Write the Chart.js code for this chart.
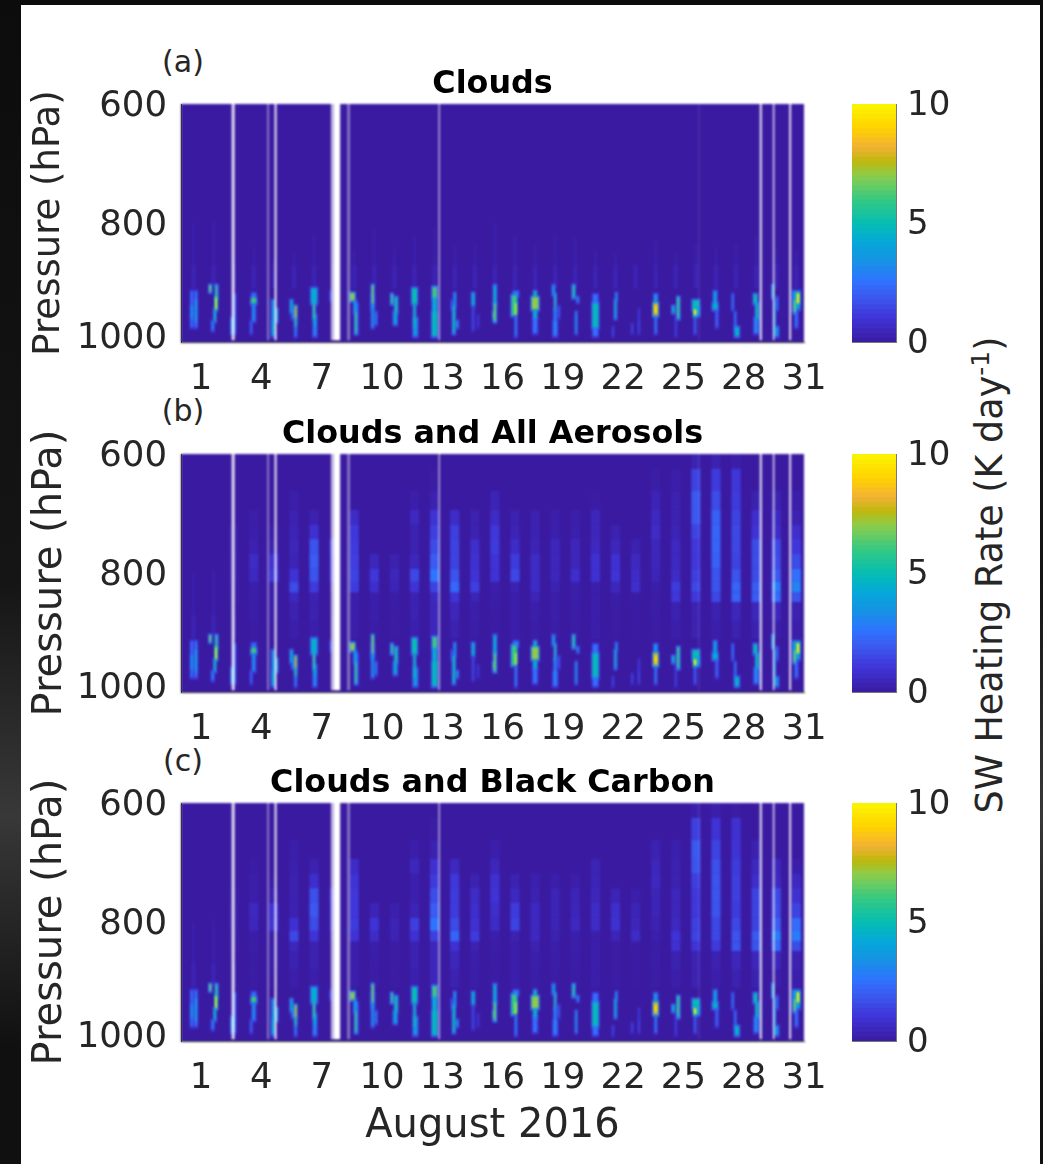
<!DOCTYPE html>
<html>
<head>
<meta charset="utf-8">
<script src="https://cdn.jsdelivr.net/npm/chart.js@4/dist/chart.umd.min.js"></script>
<style>
  html, body { margin: 0; padding: 0; }
  body { width: 1043px; height: 1164px; position: relative; overflow: hidden;
         background: linear-gradient(#0c0c0c 0%, #151515 50%, #383838 70%, #101010 90%); font-family: "DejaVu Sans", sans-serif; color: #262626; }
  #card { position: absolute; left: 21px; top: 5px; width: 1019px; height: 1159px; background: #fff; }
  canvas { position: absolute; }
  .tag { position: absolute; font-size: 30px; line-height: 30px; width: 60px; margin-left: -30px; text-align: center; }
  #cbLabel { position: absolute; left: 990px; top: 575px; font-size: 36.5px; line-height: 40px; white-space: nowrap;
             transform: translate(-50%, -50%) rotate(-90deg); }
  #cbLabel sup { font-size: 25px; line-height: 0; }
</style>
</head>
<body>
<div id="card"></div>
<div class="tag" style="left:183px;top:47px">(a)</div>
<div class="tag" style="left:183px;top:396px">(b)</div>
<div class="tag" style="left:183px;top:746px">(c)</div>
<div id="cbLabel">SW Heating Rate (K day<sup>-1</sup>)</div>
<script>
const panelTitles = ["Clouds", "Clouds and All Aerosols", "Clouds and Black Carbon"];
const dayTicks = [1, 4, 7, 10, 13, 16, 19, 22, 25, 28, 31];
const pressureTicks = [600, 800, 1000];
const colorbarTicks = [0, 5, 10];

// colormap
const colorValues = [0, 1, 2, 2.6, 3.5, 4.2, 5, 6, 7, 7.6, 8.2, 9, 10];
const colorStops = ["#3a1aa0", "#3f33d6", "#3a5cf2", "#2f74ff", "#1495e2", "#05a8da", "#05bdb2", "#35c982", "#8ccc4d", "#bdb80c", "#f2b135", "#ffd200", "#fbf500"];
const colorbarSteps = [0, .2, .4, .6, .8, 1, 1.2, 1.4, 1.6, 1.8, 2, 2.2, 2.4, 2.6, 2.8, 3, 3.2, 3.4, 3.6, 3.8, 4, 4.2, 4.4, 4.6, 4.8, 5, 5.2, 5.4, 5.6, 5.8, 6, 6.2, 6.4, 6.6, 6.8, 7, 7.2, 7.4, 7.6, 7.8, 8, 8.2, 8.4, 8.6, 8.8, 9, 9.2, 9.4, 9.6, 9.8];

// noon of the first sounding, in days on the axis; one column per day after it
const firstColumn = 0.62;

// missing data stripes
const gapStart = [2.52, 4.29, 4.66, 7.46, 7.6, 8.27, 12.81, 25.73, 28.8, 29.45, 30.26];
const gapEnd = [2.67, 4.38, 4.75, 7.6, 7.92, 8.41, 12.89, 25.8, 28.9, 29.53, 30.36];
const gapAlpha = [.85, .45, 1, .7, 1, .4, .6, .1, .9, .8, .85];

// pressure edges of the coarse aerosol layers
const layerEdges = [600, 625, 662, 694, 719, 743, 768, 793, 815, 833, 849, 880, 910];

// aerosol heating, one row per day, one value per layer, K/day
const heatingAll = [
  [0, 0, 0, 0, 0, 0, 0, 0, 0, 0, 0, 0],
  [0, 0, 0, 0, 0, 0, 0, 0, 0, 0, 0, 0],
  [0, 0, 0, 0, .15, .15, .2, .2, .1, .1, 0, 0],
  [0, 0, 0, .2, .2, .3, .7, .6, .2, .2, .15, .1],
  [0, 0, 0, 0, .15, .3, 1, 1.2, .2, .2, .2, .1],
  [0, 0, .2, .3, .4, .5, .4, 1, 1.6, .6, .3, .2],
  [0, 0, 0, .3, .9, 1.8, 2, 1.8, 1.2, .3, .3, .2],
  [0, 0, 0, 0, 0, 1.2, 1, 1, .3, 0, 0, 0],
  [0, 0, 0, .7, 1.1, 1.2, 1.3, 1.4, 1.2, .2, .2, .2],
  [0, 0, 0, 0, 0, 0, .5, 1.1, .8, .2, .2, .1],
  [0, 0, 0, 0, 0, 0, .3, .5, .4, .15, .1, .1],
  [0, 0, .2, .6, .3, .3, .5, 1.5, 1, .3, .3, .25],
  [0, .1, .3, 1, 1.3, 1.6, 2, 2.6, 1.4, .6, .5, .5],
  [0, 0, 0, .7, 1.3, 1.4, 1.4, 1.8, 2.3, 1, .5, .3],
  [0, 0, 0, .3, .3, .8, .9, 1, 1.3, .4, .2, .15],
  [0, 0, .4, .7, 1.1, 1.2, 1, 1, .2, .15, .1, .1],
  [0, 0, 0, .3, .4, .7, 1.2, 1.5, .3, .2, .2, .2],
  [0, 0, 0, .3, .3, .4, .7, .7, .7, .4, .2, .15],
  [0, 0, 0, .2, .25, .5, .5, .5, .3, .2, .2, .15],
  [0, 0, 0, .2, .25, .5, .5, .8, .2, .2, .15, .1],
  [0, 0, .1, .5, .5, .6, .9, .9, .2, .2, .2, .2],
  [0, 0, 0, 0, .3, .5, .9, 1, .5, .15, .1, .1],
  [0, 0, 0, 0, 0, .3, .6, .7, .8, .1, .05, .05],
  [0, .15, .4, .6, .7, .5, .5, .4, .2, .1, .15, .1],
  [0, .2, .3, .3, .4, .6, .6, .7, 1.2, 1.1, .3, .2],
  [.3, 1.4, 1.9, 1.9, 1.4, 1.1, 1.1, 1.3, 1.5, 1.1, .3, .3],
  [.3, 1.2, 1.6, 2.1, 2.2, 2.2, 2.1, 1.8, 1.8, 1.5, .3, .2],
  [.2, 1.1, 1.2, 1.4, 1.5, 1.5, 1.4, 1.8, 2.2, 2.2, .5, .3],
  [0, 0, .3, .8, 1, 1.6, 1.6, 1.6, 2, 2, .5, .3],
  [0, 0, .3, .6, .7, 1.5, 1.6, 1.9, 2.8, 2.4, .5, .2],
  [0, 0, .2, .3, .8, 1.1, 1.6, 2.5, 3, 1.8, .3, .2]
];
const heatingBC = [
  [0, 0, 0, 0, 0, 0, 0, 0, 0, 0, 0, 0],
  [0, 0, 0, 0, 0, 0, 0, 0, 0, 0, 0, 0],
  [0, 0, 0, 0, 0, .1, .15, .15, .1, .1, 0, 0],
  [0, 0, 0, .1, .2, .2, .6, .5, .15, .15, .1, .1],
  [0, 0, 0, 0, .1, .3, 1, 1.1, .2, .2, .2, .1],
  [0, 0, .2, .25, .3, .3, .3, .9, 1.5, .5, .3, .2],
  [0, 0, 0, .3, .8, 1.7, 1.9, 1.6, 1, .3, .3, .2],
  [0, 0, 0, 0, 0, 1, .8, .8, .3, 0, 0, 0],
  [0, 0, 0, .7, 1, 1.1, 1.1, 1.2, 1, .2, .2, .2],
  [0, 0, 0, 0, 0, 0, .4, 1, .7, .2, .15, .1],
  [0, 0, 0, 0, 0, 0, .25, .4, .35, .1, .1, .1],
  [0, 0, .2, .5, .25, .25, .4, 1.3, .9, .3, .3, .25],
  [0, .1, .3, .9, 1.2, 1.6, 2, 2.6, 1.3, .5, .5, .5],
  [0, 0, 0, .6, 1.1, 1.2, 1.2, 1.6, 2.2, .9, .5, .3],
  [0, 0, 0, 0, .3, .7, .8, .9, 1.2, .3, .2, .15],
  [0, 0, .2, .5, .9, 1, .8, .7, .2, .15, .1, .1],
  [0, 0, 0, 0, .3, .6, 1.2, 1.4, .3, .2, .2, .2],
  [0, 0, 0, 0, .25, .3, .6, .6, .6, .3, .2, .15],
  [0, 0, 0, 0, .2, .4, .4, .4, .3, .2, .15, .1],
  [0, 0, 0, 0, .2, .4, .45, .6, .2, .2, .15, .1],
  [0, 0, 0, .4, .4, .5, .7, .7, .2, .2, .2, .2],
  [0, 0, 0, 0, 0, .4, .8, .9, .4, .1, .1, .1],
  [0, 0, 0, 0, 0, .2, .4, .5, .7, .1, .05, .05],
  [0, 0, .3, .5, .6, .4, .4, .3, .2, .1, .15, .1],
  [0, 0, .25, .3, .3, .5, .5, .6, 1, .9, .3, .2],
  [.2, 1.3, 1.9, 1.8, 1.3, 1.1, 1.1, 1.3, 1.4, 1, .3, .3],
  [.2, 1, 1.4, 1.7, 1.8, 1.8, 1.8, 1.5, 1.5, 1.2, .3, .2],
  [.1, .9, 1, 1.2, 1.3, 1.3, 1.2, 1.5, 1.8, 1.8, .5, .3],
  [0, 0, .3, .6, .8, 1.4, 1.4, 1.4, 1.9, 1.8, .5, .3],
  [0, 0, 0, .5, .6, 1.5, 1.6, 2, 2.8, 2.3, .5, .2],
  [0, 0, 0, .2, .6, .9, 1.4, 2.4, 2.8, 1.6, .3, .2]
];

// top of the faint cloud veil over each day's low cloud, hPa
const veilTop = [800, 795, 870, 840, 860, 850, 820, 880, 845, 810, 840, 820, 810, 835, 835, 800, 820, 835, 820, 825, 845, 850, 870, 830, 850, 835, 840, 835, 820, 840, 845];

// low cloud streaks per day: [hours from noon, top hPa, bottom hPa, K/day, hours wide]
const cloudStreaks = [
  [[-2, 915, 975, 2.6, 2.5], [3, 915, 975, 2.8, 2.5], [-2, 940, 960, 4, 2], [3, 930, 965, 4.2, 2]],
  [[-4, 905, 915, 7, 2], [3.5, 905, 925, 6, 2], [3, 925, 945, 10, 2], [1.5, 945, 965, 5, 2], [-1, 965, 980, 3, 2.5]],
  [[-1, 960, 985, 4, 4], [1, 920, 985, 2.6, 2.5], [-1, 965, 975, 4.6, 3]],
  [[0, 925, 935, 6, 6], [0, 935, 965, 3.2, 3.5], [-3, 965, 985, 2.2, 2], [0, 918, 925, 2.5, 5]],
  [[-1, 930, 990, 3.6, 3], [3, 945, 965, 5, 2.5], [-1, 965, 985, 4.4, 2.5]],
  [[-3, 930, 950, 4.5, 2.5], [-1, 945, 960, 3, 3], [2, 940, 960, 8, 2], [2, 960, 975, 5.5, 2], [2, 975, 990, 3, 2]],
  [[0, 910, 935, 4.4, 7], [1, 955, 975, 4, 3.5], [1, 975, 990, 3, 4], [0, 935, 960, 6, 2]],
  [[-4, 915, 930, 1.5, 2.5]],
  [[-2, 918, 930, 7, 5], [3, 935, 985, 2.5, 3], [1, 930, 950, 4, 2.5], [2, 950, 985, 6, 2]],
  [[-2, 920, 945, 2.6, 4], [-2, 935, 975, 3.5, 2.5], [2, 950, 970, 3, 2], [-2, 905, 935, 7, 2]],
  [[-3, 920, 935, 6, 2], [1, 950, 970, 4, 4], [2, 925, 950, 5.2, 3]],
  [[0, 910, 935, 5, 6], [1, 960, 990, 3.5, 5], [0, 935, 975, 5, 2]],
  [[0, 925, 980, 4.4, 5], [0, 950, 990, 4.8, 6], [0, 908, 925, 6.2, 5]],
  [[0, 918, 940, 4, 2], [-3, 930, 945, 2.2, 2], [-1, 940, 985, 5, 2.5], [3, 965, 975, 4, 2]],
  [[-2, 918, 940, 4.5, 3], [-2, 940, 980, 1.5, 2], [4, 955, 975, 1, 2]],
  [[0, 905, 935, 4.5, 3], [0, 935, 965, 6.5, 2.5], [-1, 950, 960, 6.5, 2]],
  [[1, 915, 922, 3, 6], [-1, 922, 955, 6, 6], [1, 935, 955, 10, 1.5], [1, 955, 990, 3, 2]],
  [[0, 960, 985, 2.5, 5], [0, 915, 925, 5, 3], [0, 925, 945, 7, 8], [0, 945, 960, 4.5, 4]],
  [[0, 965, 990, 2.5, 5], [-2, 905, 920, 4, 2.5], [0, 945, 985, 3, 3], [0, 920, 945, 5.5, 1.5], [4, 940, 960, 2, 2]],
  [[-2, 905, 925, 5.5, 2.5], [3, 925, 932, 4, 1.5], [1, 950, 985, 3.8, 1.5]],
  [[0, 920, 935, 2.5, 6], [0, 975, 990, 2.5, 6], [0, 935, 975, 4.8, 7]],
  [[1, 918, 930, 4, 1.5], [0, 930, 960, 4.5, 2], [-3, 975, 990, 1.5, 1.5]],
  [[-4, 970, 985, 1.5, 1.5], [4, 945, 965, 1.2, 1.5], [4, 965, 985, 1.5, 1.5]],
  [[0, 920, 935, 3.5, 4], [0, 955, 985, 3, 2], [0, 935, 955, 8, 5.5], [0, 940, 950, 10, 2]],
  [[0, 955, 990, 1.2, 2], [-3, 940, 950, 5, 2.5], [3, 925, 960, 6, 2.5]],
  [[0, 930, 945, 5, 8], [2, 940, 955, 4, 5], [-1, 955, 985, 2.5, 1.5], [-1, 945, 955, 10, 3]],
  [[-1, 915, 935, 4, 3.5], [1, 945, 975, 2, 3], [-1, 935, 945, 4.5, 6]],
  [[-4, 920, 945, 3, 1.5], [-1, 950, 980, 3, 1.5], [1, 975, 990, 4.5, 5]],
  [[0, 960, 985, 3, 5], [-1, 920, 935, 5, 4], [1, 935, 960, 5, 3]],
  [[0, 975, 990, 3.5, 5], [-4, 905, 925, 6, 1.5], [-2, 930, 975, 4, 1.5], [1, 925, 945, 3, 1.5]],
  [[0, 915, 945, 4, 8], [0, 945, 975, 2.5, 3], [-2, 930, 950, 7, 2], [2, 918, 935, 10, 3]]
];

function heatColor(v) {
  let i = 0;
  while (i < colorValues.length - 2 && v > colorValues[i + 1]) i++;
  const t = Math.min(1, (v - colorValues[i]) / (colorValues[i + 1] - colorValues[i]));
  const a = colorStops[i], b = colorStops[i + 1];
  const part = (s, n) => parseInt(s.substr(n, 2), 16);
  const mix = (n) => Math.round(part(a, n) + (part(b, n) - part(a, n)) * t);
  return `rgb(${mix(1)},${mix(3)},${mix(5)})`;
}

// a bar whose width comes from the x scale, so each cell can span its own time range
class HeatController extends Chart.BarController {
  _calculateBarIndexPixels(index, ruler) {
    const raw = this.getDataset().data[index];
    const left = ruler.scale.getPixelForValue(raw.x - raw.w / 2);
    const right = ruler.scale.getPixelForValue(raw.x + raw.w / 2);
    return { base: left, head: right, center: (left + right) / 2, size: right - left };
  }
}
HeatController.id = "heat";
HeatController.defaults = Chart.BarController.defaults;
HeatController.overrides = Chart.BarController.overrides;
Chart.register(HeatController);

// the original is a resampled image, so soften the finished cells as one picture
const softCells = {
  id: "softCells",
  afterDatasetsDraw(chart) {
    const a = chart.chartArea;
    const x = Math.floor(a.left) - 3, y = Math.floor(a.top) - 3;
    const w = Math.ceil(a.width) + 6, h = Math.ceil(a.height) + 6;
    const copy = document.createElement("canvas");
    copy.width = w;
    copy.height = h;
    copy.getContext("2d").drawImage(chart.canvas, x, y, w, h, 0, 0, w, h);
    const ctx = chart.ctx;
    ctx.save();
    ctx.clearRect(x, y, w, h);
    ctx.filter = "blur(0.8px)";
    ctx.drawImage(copy, x, y);
    ctx.restore();
  }
};

const tickFont = { family: "DejaVu Sans", size: 35.5, lineHeight: "12px" };
const barTickFont = { family: "DejaVu Sans", size: 34, lineHeight: "12px" };
const textColor = "#262626";
const hours = 1 / 24;

function cells(heating) {
  const out = [];
  // background
  out.push({ x: 15.5, w: 31, y: [600, 1000], v: 0 });
  veilTop.forEach((top, k) => {
    const x = firstColumn + k;
    out.push({ x: x, w: 4 * hours, y: [top, 870], v: 0.2 });
    out.push({ x: x, w: 5 * hours, y: [870, 910], v: 0.4 });
  });
  if (heating) {
    heating.forEach((row, k) => {
      row.forEach((v, l) => {
        if (v > 0) out.push({ x: firstColumn + k, w: 11 * hours, y: [layerEdges[l], layerEdges[l + 1]], v: v });
      });
    });
  }
  // dim glow around the streaks, then the streaks
  cloudStreaks.forEach((row, k) => {
    row.forEach((s) => {
      out.push({ x: firstColumn + k + s[0] * hours, w: (s[4] + 3) * hours, y: [s[1] - 3, s[2] + 4], v: s[3] * 0.4 });
    });
  });
  cloudStreaks.forEach((row, k) => {
    row.forEach((s) => {
      out.push({ x: firstColumn + k + s[0] * hours, w: s[4] * hours, y: [s[1], s[2]], v: s[3] });
    });
  });
  return out;
}

function addPanel(top, title, heating, yTitleSize, yTitlePad, xTitle) {
  const canvas = document.createElement("canvas");
  const xHeight = xTitle ? 110 : 60;
  const header = 35;
  canvas.width = 810;
  canvas.height = header + 238 + xHeight;
  canvas.style.left = "21px";
  canvas.style.top = (top - header) + "px";
  document.body.appendChild(canvas);

  new Chart(canvas, {
    type: "heat",
    data: {
      datasets: [
        // later datasets are painted first, so the stripes go first to stay on top
        {
          data: gapStart.map((s, i) => ({ x: (s + gapEnd[i]) / 2, w: gapEnd[i] - s, y: [600, 997] })),
          backgroundColor: gapAlpha.map((a) => `rgba(255,255,255,${a})`),
          inflateAmount: 0,
          clip: false
        },
        {
          data: cells(heating),
          backgroundColor: (ctx) => heatColor(ctx.raw.v),
          inflateAmount: 0,
          clip: false
        }
      ]
    },
    plugins: [softCells],
    options: {
      responsive: false,
      animation: false,
      events: [],
      layout: { padding: { right: 27 } },
      plugins: {
        legend: { display: false },
        tooltip: { enabled: false },
        title: {
          display: true,
          text: title,
          fullSize: false,
          color: "#000",
          font: { family: "DejaVu Sans", size: 31.8, weight: "bold", lineHeight: 1 },
          padding: { top: 0, bottom: 3.2 }
        }
      },
      scales: {
        x: {
          type: "linear",
          min: 0,
          max: 31,
          offset: false,
          grid: { display: false, offset: false, drawTicks: false },
          border: { color: "#333", width: 1 },
          afterBuildTicks(scale) { scale.ticks = dayTicks.map((v) => ({ value: v })); },
          afterFit(scale) {
            scale.height = xHeight;
            scale.paddingRight = 0;
            scale.paddingLeft = 0;
          },
          ticks: {
            autoSkip: false,
            maxRotation: 0,
            color: textColor,
            padding: 32,
            font: tickFont,
            callback: (v) => String(v)
          },
          title: {
            display: !!xTitle,
            text: xTitle,
            color: textColor,
            font: { family: "DejaVu Sans", size: 40, lineHeight: 1 },
            padding: { top: 0, bottom: 4 }
          }
        },
        y: {
          type: "linear",
          reverse: true,
          min: 600,
          max: 1000,
          grid: { display: false, drawTicks: false },
          border: { color: "#333", width: 1, z: 1 },
          afterBuildTicks(scale) { scale.ticks = pressureTicks.map((v) => ({ value: v })); },
          afterFit(scale) { scale.width = 160; },
          ticks: {
            color: textColor,
            padding: 14,
            labelOffset: 3,
            font: tickFont,
            // 1000 sits a little above the axis end in the original
            callback: (v) => (v === 1000 ? ["1000", ""] : String(v))
          },
          title: {
            display: true,
            text: "Pressure (hPa)",
            color: textColor,
            font: { family: "DejaVu Sans", size: yTitleSize, lineHeight: 1 },
            padding: { top: yTitlePad, bottom: 0 }
          }
        }
      }
    }
  });
}

function addColorbar(top) {
  const canvas = document.createElement("canvas");
  canvas.width = 190;
  canvas.height = 238 + 50;
  canvas.style.left = "840px";
  canvas.style.top = (top - 25) + "px";
  document.body.appendChild(canvas);

  new Chart(canvas, {
    type: "heat",
    data: {
      datasets: [{
        data: colorbarSteps.map((v) => ({ x: 0.5, w: 1, y: [v, v + 0.2], v: v + 0.1 })),
        backgroundColor: (ctx) => heatColor(ctx.raw.v),
        inflateAmount: 0.4
      }]
    },
    options: {
      responsive: false,
      animation: false,
      events: [],
      layout: { padding: { left: 12, top: 25, bottom: 25 } },
      plugins: { legend: { display: false }, tooltip: { enabled: false } },
      scales: {
        x: {
          type: "linear", min: 0, max: 1, offset: false,
          grid: { display: false, offset: false, drawTicks: false },
          border: { color: "#777", width: 1 },
          ticks: { display: false },
          afterFit(scale) { scale.height = 0; }
        },
        y: {
          type: "linear", position: "right", min: 0, max: 10,
          grid: { display: false, drawTicks: false },
          border: { color: "#777", width: 1, z: 1 },
          afterBuildTicks(scale) { scale.ticks = colorbarTicks.map((v) => ({ value: v })); },
          afterFit(scale) { scale.width = 134; },
          ticks: { color: textColor, padding: 11, labelOffset: 2, font: barTickFont, callback: (v) => String(v) }
        }
      }
    }
  });
}

addPanel(104, panelTitles[0], null, 37, 10);
addPanel(454, panelTitles[1], heatingAll, 40, 10);
addPanel(803, panelTitles[2], heatingBC, 40, 10, "August 2016");
addColorbar(104);
addColorbar(454);
addColorbar(803);
</script>
</body>
</html>
